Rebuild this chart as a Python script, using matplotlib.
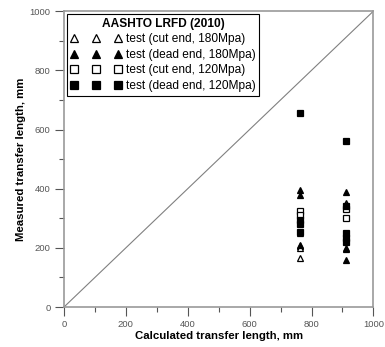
import numpy as np
import matplotlib.pyplot as plt
from matplotlib.ticker import MultipleLocator

plt.rcParams['font.family'] = ['Liberation Sans', 'DejaVu Sans']

# calculated transfer length for each strand group (mm)
calc_180 = 762
calc_120 = 912

# measured transfer lengths (mm)
cut_180_a = [250, 205, 200, 165]
dead_180_a = [395, 380, 210]
cut_120_a = [325, 310]
dead_120_a = [655, 295, 280, 255]

cut_180_b = [350, 200]
dead_180_b = [390, 345, 195, 160]
cut_120_b = [330, 300]
dead_120_b = [560, 340, 250, 235, 220]

labels = ["test (cut end, 180Mpa)", "test (dead end, 180Mpa)",
          "test (cut end, 120Mpa)", "test (dead end, 120Mpa)"]

fig = plt.figure(figsize=(3.85, 3.47), dpi=100)
ax = fig.add_axes([0.166, 0.115, 0.804, 0.853])

ax.plot([0, 1000], [0, 1000], color="#808080", lw=0.8, zorder=1)

series = [
    (cut_180_a, cut_180_b, dict(marker="^", mfc="white", mec="black", ms=4.5)),
    (dead_180_a, dead_180_b, dict(marker="^", mfc="black", mec="black", ms=4.5)),
    (cut_120_a, cut_120_b, dict(marker="s", mfc="white", mec="black", ms=4.5)),
    (dead_120_a, dead_120_b, dict(marker="s", mfc="black", mec="black", ms=4.5)),
]
for (ya, yb, style), lab in zip(series, labels):
    xs = [calc_180] * len(ya) + [calc_120] * len(yb)
    ax.plot(xs, ya + yb, ls="none", mew=0.9, label=lab, zorder=3, **style)

ax.set_xlim(0, 1000)
ax.set_ylim(0, 1000)
ax.xaxis.set_major_locator(MultipleLocator(200))
ax.xaxis.set_minor_locator(MultipleLocator(100))
ax.yaxis.set_major_locator(MultipleLocator(200))
ax.yaxis.set_minor_locator(MultipleLocator(100))
ax.tick_params(which="both", direction="out", colors="#555555", labelsize=6.8,
               top=False, right=False, width=0.8)
ax.tick_params(which="major", length=6.5, pad=3)
ax.tick_params(which="minor", length=3.5)
for s in ax.spines.values():
    s.set_color("#999999")
    s.set_linewidth(1.2)

ax.set_xlabel("Calculated transfer length, mm", fontsize=8.2, fontweight="bold", labelpad=1)
ax.set_ylabel("Measured transfer length, mm", fontsize=8.2, fontweight="bold", labelpad=3)

leg = ax.legend(loc="upper left", numpoints=3, fontsize=8.6, markerscale=1.15,
                title="AASHTO LRFD (2010)", title_fontproperties={"weight": "bold", "size": 8.6},
                fancybox=False, edgecolor="black", framealpha=1,
                handlelength=4.3, handletextpad=0.35, borderaxespad=0.25,
                labelspacing=0.3, borderpad=0.3)
leg.get_frame().set_linewidth(0.8)

fig.savefig("out.png", dpi=100)
